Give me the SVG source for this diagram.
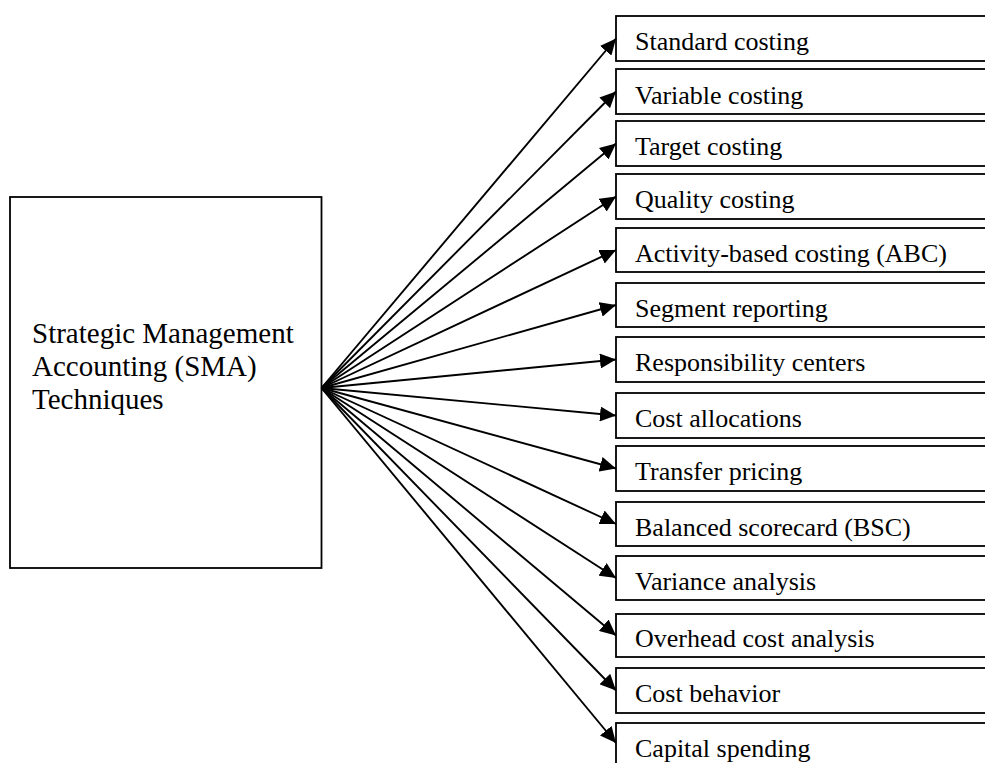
<svg xmlns="http://www.w3.org/2000/svg" width="985" height="763" viewBox="0 0 985 763">
<style>
.box{fill:#fff;stroke:#000;stroke-width:1.8}
.lbl{font-family:"Liberation Serif","Times New Roman",serif;font-size:26px;fill:#000}
.main{font-family:"Liberation Serif","Times New Roman",serif;font-size:29px;fill:#000}
.con line{stroke:#000;stroke-width:1.9}
</style>
<defs>
<marker id="ah" viewBox="0 0 16 15" refX="16" refY="7.5" markerWidth="16" markerHeight="15" markerUnits="userSpaceOnUse" orient="auto">
<path d="M0,0 L16,7.5 L0,15 Z" fill="#000"/>
</marker>
</defs>
<rect width="985" height="763" fill="#fff"/>
<g id="sma">
<rect class="box" x="10" y="197" width="311.5" height="371"/>
<text class="main" x="32" y="343">Strategic Management</text>
<text class="main" x="32" y="376">Accounting (SMA)</text>
<text class="main" x="32" y="409">Techniques</text>
</g>
<g id="n1"><rect class="box" x="616" y="16" width="380" height="45"/><text class="lbl" x="635" y="50">Standard costing</text></g>
<g id="n2"><rect class="box" x="616" y="69" width="380" height="45"/><text class="lbl" x="635" y="104">Variable costing</text></g>
<g id="n3"><rect class="box" x="616" y="121" width="380" height="45"/><text class="lbl" x="635" y="155">Target costing</text></g>
<g id="n4"><rect class="box" x="616" y="174" width="380" height="45"/><text class="lbl" x="635" y="208">Quality costing</text></g>
<g id="n5"><rect class="box" x="616" y="228" width="380" height="44"/><text class="lbl" x="635" y="262">Activity-based costing (ABC)</text></g>
<g id="n6"><rect class="box" x="616" y="283" width="380" height="44"/><text class="lbl" x="635" y="317">Segment reporting</text></g>
<g id="n7"><rect class="box" x="616" y="337" width="380" height="45"/><text class="lbl" x="635" y="371">Responsibility centers</text></g>
<g id="n8"><rect class="box" x="616" y="393" width="380" height="45"/><text class="lbl" x="635" y="427">Cost allocations</text></g>
<g id="n9"><rect class="box" x="616" y="446" width="380" height="45"/><text class="lbl" x="635" y="480">Transfer pricing</text></g>
<g id="n10"><rect class="box" x="616" y="502" width="380" height="44"/><text class="lbl" x="635" y="536">Balanced scorecard (BSC)</text></g>
<g id="n11"><rect class="box" x="616" y="556" width="380" height="44"/><text class="lbl" x="635" y="590">Variance analysis</text></g>
<g id="n12"><rect class="box" x="616" y="614" width="380" height="43"/><text class="lbl" x="635" y="647">Overhead cost analysis</text></g>
<g id="n13"><rect class="box" x="616" y="668" width="380" height="45"/><text class="lbl" x="635" y="702">Cost behavior</text></g>
<g id="n14"><rect class="box" x="616" y="723" width="380" height="60"/><text class="lbl" x="635" y="757">Capital spending</text></g>
<g id="connectors" class="con">
<line x1="321.5" y1="388" x2="616" y2="38.5" marker-end="url(#ah)"/>
<line x1="321.5" y1="388" x2="616" y2="91.5" marker-end="url(#ah)"/>
<line x1="321.5" y1="388" x2="616" y2="143.5" marker-end="url(#ah)"/>
<line x1="321.5" y1="388" x2="616" y2="196.5" marker-end="url(#ah)"/>
<line x1="321.5" y1="388" x2="616" y2="250" marker-end="url(#ah)"/>
<line x1="321.5" y1="388" x2="616" y2="305" marker-end="url(#ah)"/>
<line x1="321.5" y1="388" x2="616" y2="359.5" marker-end="url(#ah)"/>
<line x1="321.5" y1="388" x2="616" y2="415.5" marker-end="url(#ah)"/>
<line x1="321.5" y1="388" x2="616" y2="468.5" marker-end="url(#ah)"/>
<line x1="321.5" y1="388" x2="616" y2="524" marker-end="url(#ah)"/>
<line x1="321.5" y1="388" x2="616" y2="578" marker-end="url(#ah)"/>
<line x1="321.5" y1="388" x2="616" y2="635.5" marker-end="url(#ah)"/>
<line x1="321.5" y1="388" x2="616" y2="690.5" marker-end="url(#ah)"/>
<line x1="321.5" y1="388" x2="616" y2="743" marker-end="url(#ah)"/>
</g>
</svg>
